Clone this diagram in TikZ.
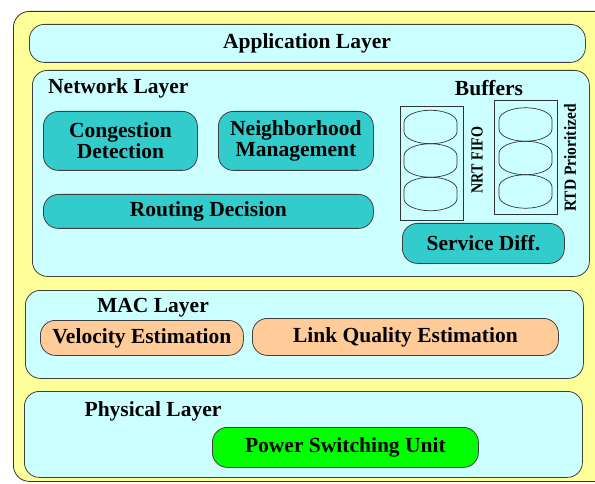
\documentclass[tikz,border=0pt]{standalone}
\usepackage{graphicx}
\usepackage{fontspec}
\setmainfont{Liberation Serif}
\definecolor{outery}{HTML}{FFFF99}
\definecolor{lcyan}{HTML}{CCFFFF}
\definecolor{teal2}{HTML}{33CCCC}
\definecolor{peach}{HTML}{FFCC99}
\definecolor{bgreen}{HTML}{00FF00}
\begin{document}
\begin{tikzpicture}[x=1pt,y=-1pt,
  lay/.style={draw=black!75,fill=lcyan,rounded corners=15pt,line width=0.8pt},
  blk/.style={draw=black!75,rounded corners=15pt,line width=0.8pt,font=\fontsize{21.5}{21}\selectfont\bfseries,align=center,inner sep=0pt},
  tl/.style={blk,fill=teal2},
  pe/.style={blk,fill=peach},
  gr/.style={blk,fill=bgreen},
  ttl/.style={font=\fontsize{21.5}{21}\selectfont\bfseries,inner sep=0pt},
  vtl/.style={rotate=90,font=\fontsize{17}{18}\selectfont\bfseries,inner sep=0pt},
  ovline/.style={draw=black!80,line width=0.7pt},
  bufoval/.pic={\draw[ovline] (-26.5,-4.5) -- (-26.5,4.5)
      arc[start angle=180,end angle=0,x radius=26.5,y radius=12.25] -- (26.5,-4.5)
      arc[start angle=0,end angle=-180,x radius=26.5,y radius=12.25] -- cycle;},
  bufr/.style={draw=black!80,line width=0.7pt,inner sep=0pt}]
\useasboundingbox (0,0) rectangle (595,484);
\node[draw=black!80,fill=outery,rounded corners=16pt,line width=0.8pt,minimum width=600pt,minimum height=470pt,anchor=north west] (outer) at (13,11) {};
% Application layer
\node[lay,minimum width=556pt,minimum height=38pt,anchor=north west] (app) at (29,24) {};
\node[ttl] (apptxt) at (307,43) {Application Layer};
% Network layer
\node[lay,minimum width=557pt,minimum height=206pt,anchor=north west] (net) at (32,70) {};
\node[ttl,anchor=west] (nettxt) at (48,88) {Network Layer};
\node[tl,minimum width=154pt,minimum height=59pt,anchor=north west] (cong) at (43,111) {Congestion\\Detection};
\node[tl,minimum width=155pt,minimum height=59pt,anchor=north west] (neigh) at (218,111) {Neighborhood\\Management};
\node[tl,minimum width=330pt,minimum height=34pt,anchor=north west] (route) at (43,194) {Routing Decision};
\node[ttl] (buftxt) at (489,88) {Buffers};
\node[bufr,minimum width=63pt,minimum height=114pt,anchor=north west] (nrt) at (400,106) {};
\pic (n1) at (430.5,127) {bufoval};
\pic (n2) at (430.5,160.5) {bufoval};
\pic (n3) at (430.5,194) {bufoval};
\node[vtl] (nrttxt) at (477,160) {\scalebox{0.83}[1]{NRT FIFO}};
\node[bufr,minimum width=63pt,minimum height=114pt,anchor=north west] (rtd) at (494,100) {};
\pic (r1) at (525.5,124.5) {bufoval};
\pic (r2) at (525.5,158) {bufoval};
\pic (r3) at (525.5,191.5) {bufoval};
\node[vtl] (rtdtxt) at (570,158) {\scalebox{0.91}[1]{RTD Prioritized}};
\node[tl,minimum width=162pt,minimum height=40pt,anchor=north west] (serv) at (402,223) {Service Diff.};
% MAC layer
\node[lay,minimum width=558pt,minimum height=88pt,anchor=north west] (mac) at (25,290) {};
\node[ttl] (mactxt) at (153,308) {MAC Layer};
\node[pe,minimum width=203pt,minimum height=35pt,anchor=north west] (vel) at (40,320) {Velocity Estimation};
\node[pe,minimum width=306pt,minimum height=37pt,anchor=north west] (link) at (252,318) {Link Quality Estimation};
% Physical layer
\node[lay,minimum width=558pt,minimum height=86pt,anchor=north west] (phy) at (24,391) {};
\node[ttl] (phytxt) at (153,411) {Physical Layer};
\node[gr,minimum width=266pt,minimum height=40pt,anchor=north west] (psu) at (212,427) {Power Switching Unit};
\end{tikzpicture}
\end{document}
